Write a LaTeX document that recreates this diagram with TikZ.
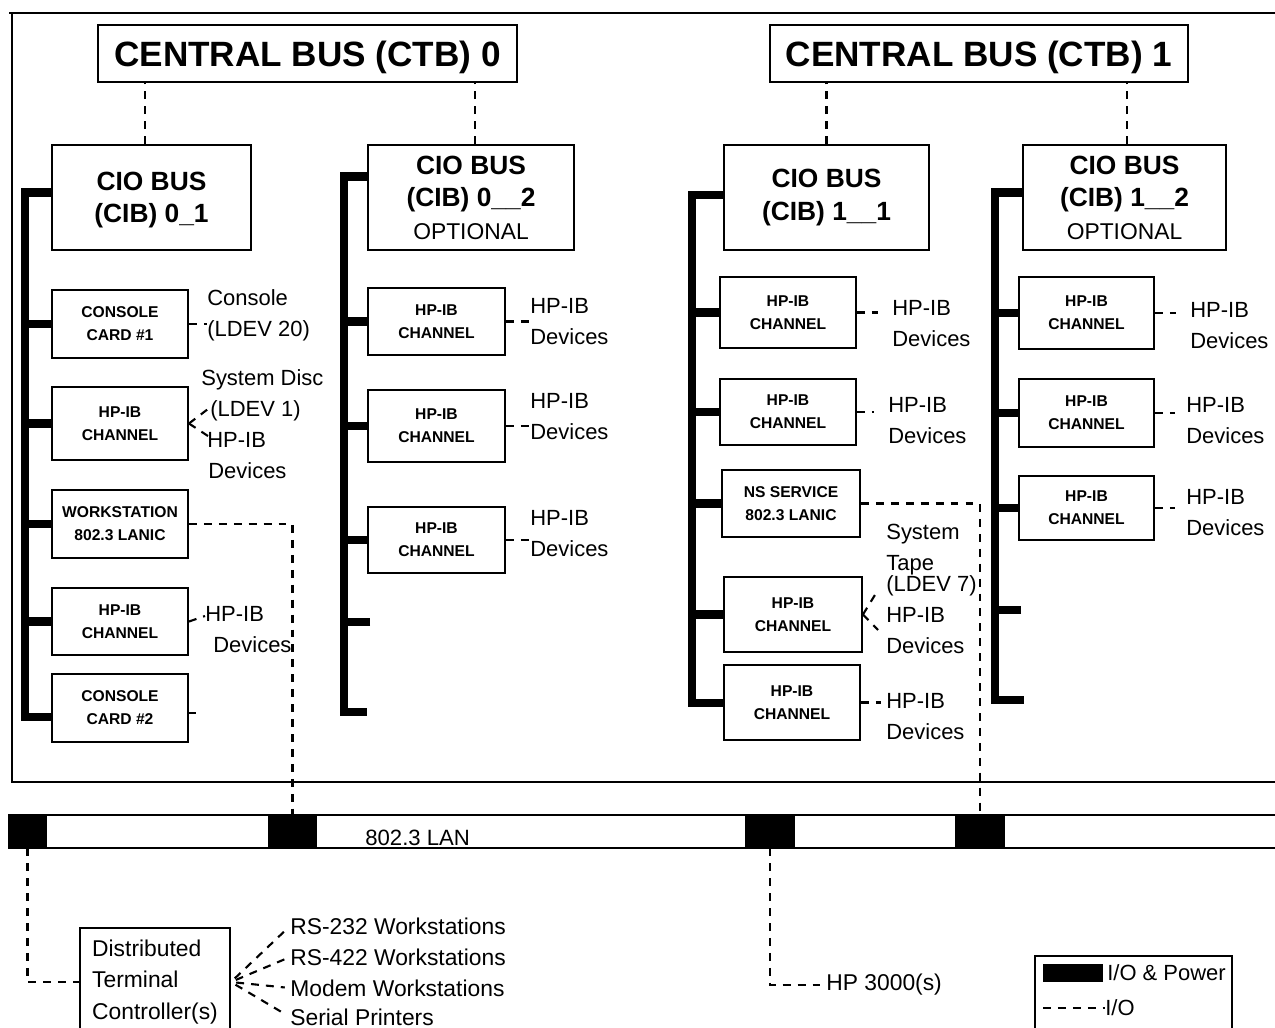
\documentclass[tikz,border=0pt]{standalone}
\usepackage{fontspec}
\setmainfont{Liberation Sans}
\begin{document}
\begin{tikzpicture}[x=0.02cm,y=-0.02cm,
  box/.style={draw, line width=1.1pt, inner sep=0pt, align=center},
  ttl/.style={box, font=\bfseries\fontsize{20}{24}\selectfont, minimum height=1.14cm, text depth=0pt},
  cib/.style={box, font=\bfseries\fontsize{15}{18.5}\selectfont, minimum height=2.1cm},
  card/.style={box, font=\bfseries\fontsize{8.9}{13}\selectfont},
  lbl/.style={inner sep=0pt, align=left, anchor=west, font=\fontsize{12.5}{17.6}\selectfont},
  lblb/.style={inner sep=0pt, align=left, anchor=west, font=\fontsize{13}{18}\selectfont},
  io/.style={line width=1.2pt, dash pattern=on 4.5pt off 4pt},
  bus/.style={line width=5pt, line join=miter},
  frame/.style={line width=1.1pt},
  lanblk/.style={fill=black, draw=none, inner sep=0pt, minimum height=0.66cm}]
\useasboundingbox (0,0) rectangle (1275,1028);

% frame
\draw[frame] (9,13) -- (1280,13);
\draw[frame] (12,13) -- (12,782) -- (1280,782);

% central buses
\node[ttl, minimum width=8.38cm] (ctb0) at (307.5,53.5) {CENTRAL BUS (CTB) 0};
\node[ttl, minimum width=8.36cm] (ctb1) at (979,53.5) {CENTRAL BUS (CTB) 1};

% CIO buses
\node[cib, minimum width=3.98cm, text depth=0pt] (cib01) at (151.5,197.5) {CIO BUS\\(CIB) 0\_1};
\node[cib, minimum width=4.12cm] (cib02) at (471,197.5) {CIO BUS\\(CIB) 0\_\_2\\{\mdseries\fontsize{13}{16}\selectfont OPTIONAL}};
\node[cib, minimum width=4.10cm] (cib11) at (826.5,197.5) {CIO BUS\\(CIB) 1\_\_1};
\node[cib, minimum width=4.06cm] (cib12) at (1124.5,197.5) {CIO BUS\\(CIB) 1\_\_2\\{\mdseries\fontsize{13}{16}\selectfont OPTIONAL}};

\draw[io] ([xshift=-0.13cm]cib01.north) -- ([xshift=-0.13cm]cib01.north |- ctb0.south);
\draw[io] ([xshift=0.08cm]cib02.north) -- ([xshift=0.08cm]cib02.north |- ctb0.south);
\draw[io] (cib11.north) -- (cib11.north |- ctb1.south);
\draw[io] ([xshift=0.05cm]cib12.north) -- ([xshift=0.05cm]cib12.north |- ctb1.south);

% column 0_1
\node[card, minimum width=2.72cm, minimum height=1.36cm] (con1) at (120,324) {CONSOLE\\CARD \#1};
\node[card, minimum width=2.72cm, minimum height=1.46cm] (hp01a) at (120,423.5) {HP-IB\\CHANNEL};
\node[card, minimum width=2.72cm, minimum height=1.36cm] (ws) at (120,524) {WORKSTATION\\802.3 LANIC};
\node[card, minimum width=2.72cm, minimum height=1.34cm] (hp01b) at (120,621.5) {HP-IB\\CHANNEL};
\node[card, minimum width=2.72cm, minimum height=1.36cm] (con2) at (120,708) {CONSOLE\\CARD \#2};

\coordinate (b01) at (25,717);
\draw[bus] ([yshift=0.1cm]cib01.west) -| (b01) -- (con2.west |- b01);
\foreach \n in {con1,hp01a,ws,hp01b} \draw[bus] (\n.west) -- (\n.west -| b01);

\node[lbl] (l01a) at (207,315) {Console\\(LDEV 20)};
\draw[io] (con1.east) -- (con1.east -| l01a.west);
\node[lbl] (l01b) at (201,424.5) {System Disc\\\hspace*{0.18cm}(LDEV 1)\\\hspace*{0.12cm}HP-IB\\\hspace*{0.14cm}Devices};
\coordinate (f1) at (208,409);
\coordinate (f2) at (208,436);
\draw[io] (hp01a.east) -- (f1);
\draw[io] (hp01a.east) -- (f2);
\node[lbl] (l01c) at (205,629.5) {HP-IB\\\hspace*{0.16cm}Devices};
\coordinate (c01c) at (205,616);
\draw[io] (hp01b.east) -- (c01c);
\coordinate (c2s) at (196,713);
\draw[frame] (con2.east |- c2s) -- (c2s);

% column 0_2
\node[card, minimum width=2.74cm, minimum height=1.34cm] (hp02a) at (436.5,321.5) {HP-IB\\CHANNEL};
\node[card, minimum width=2.74cm, minimum height=1.44cm] (hp02b) at (436.5,426) {HP-IB\\CHANNEL};
\node[card, minimum width=2.74cm, minimum height=1.32cm] (hp02c) at (436.5,540) {HP-IB\\CHANNEL};
\coordinate (b02) at (344,712);
\coordinate (s02) at (370,622);
\draw[bus] ([yshift=0.42cm]cib02.west) -| (b02) -- (b02 -| hp02a.west);
\foreach \n in {hp02a,hp02b,hp02c} \draw[bus] (\n.west) -- (\n.west -| b02);
\draw[bus] (s02) -- (s02 -| b02);
\node[lbl] (l02a) at (530,321.5) {HP-IB\\Devices};
\node[lbl] (l02b) at (530,417) {HP-IB\\Devices};
\node[lbl] (l02c) at (530,533.5) {HP-IB\\Devices};
\draw[io] (hp02a.east) -- (hp02a.east -| l02a.west);
\draw[io] (hp02b.east) -- (hp02b.east -| l02b.west);
\draw[io] (hp02c.east) -- (hp02c.east -| l02c.west);

% column 1_1
\node[card, minimum width=2.72cm, minimum height=1.42cm] (hp11a) at (788,312.5) {HP-IB\\CHANNEL};
\node[card, minimum width=2.72cm, minimum height=1.32cm] (hp11b) at (788,412) {HP-IB\\CHANNEL};
\node[card, minimum width=2.76cm, minimum height=1.34cm] (ns) at (791,503.5) {NS SERVICE\\802.3 LANIC};
\node[card, minimum width=2.76cm, minimum height=1.5cm] (hp11c) at (793,614.5) {HP-IB\\CHANNEL};
\node[card, minimum width=2.72cm, minimum height=1.5cm] (hp11d) at (792,702.5) {HP-IB\\CHANNEL};
\coordinate (b11) at (692,703);
\draw[bus] ([yshift=0.05cm]cib11.west) -| (b11) -- (hp11d.west |- b11);
\foreach \n in {hp11a,hp11b,ns,hp11c} \draw[bus] (\n.west) -- (\n.west -| b11);
\node[lbl] (l11a) at (892,323.5) {HP-IB\\Devices};
\node[lbl] (l11b) at (888,420.5) {HP-IB\\Devices};
\node[lbl] (l11c) at (886,589) {System\\Tape\\[-5.7pt](LDEV 7)\\HP-IB\\Devices};
\node[lbl] (l11d) at (886,716.5) {HP-IB\\Devices};
\draw[io, shorten >=8pt] (hp11a.east) -- (hp11a.east -| l11a.west);
\draw[io, shorten >=8pt] (hp11b.east) -- (hp11b.east -| l11b.west);
\coordinate (f3) at (878,590);
\coordinate (f4) at (878,630);
\draw[io] (hp11c.east) -- (f3);
\draw[io] (hp11c.east) -- (f4);
\draw[io, shorten >=3pt] (hp11d.east) -- (hp11d.east -| l11d.west);

% column 1_2
\node[card, minimum width=2.7cm, minimum height=1.44cm] (hp12a) at (1086.5,313) {HP-IB\\CHANNEL};
\node[card, minimum width=2.7cm, minimum height=1.36cm] (hp12b) at (1086.5,413) {HP-IB\\CHANNEL};
\node[card, minimum width=2.7cm, minimum height=1.28cm] (hp12c) at (1086.5,508) {HP-IB\\CHANNEL};
\coordinate (b12) at (995,700);
\coordinate (b12e) at (1024,700);
\coordinate (s12) at (1021,610);
\draw[bus] ([yshift=0.1cm]cib12.west) -| (b12) -- (b12e);
\foreach \n in {hp12a,hp12b,hp12c} \draw[bus] (\n.west) -- (\n.west -| b12);
\draw[bus] (s12) -- (s12 -| b12);
\node[lbl] (l12a) at (1190,326) {HP-IB\\Devices};
\node[lbl] (l12b) at (1186,420.5) {HP-IB\\Devices};
\node[lbl] (l12c) at (1186,512.5) {HP-IB\\Devices};
\draw[io, shorten >=8pt] (hp12a.east) -- (hp12a.east -| l12a.west);
\draw[io, shorten >=6pt] (hp12b.east) -- (hp12b.east -| l12b.west);
\draw[io, shorten >=6pt] (hp12c.east) -- (hp12c.east -| l12c.west);

% LAN
\draw[frame] (8,815) -- (1280,815);
\draw[frame] (8,848) -- (1280,848);
\node[lanblk, minimum width=0.78cm] (lanA) at (27.5,831.5) {};
\node[lanblk, minimum width=0.98cm] (lanB) at (292.5,831.5) {};
\node[lanblk, minimum width=1cm] (lanC) at (770,831.5) {};
\node[lanblk, minimum width=1cm] (lanD) at (980,831.5) {};
\node[anchor=base west, inner sep=0pt, font=\fontsize{12.6}{15}\selectfont] (lanlbl) at (365,845) {802.3 LAN};
\draw[io] (ws.east) -| (lanB.north);
\draw[io] (ns.east) -| (lanD.north);

% terminal controller
\node[box, font=\fontsize{13}{18}\selectfont, align=left, minimum width=3cm, minimum height=2.16cm] (dtc) at (155,982) {Distributed\\Terminal\\Controller(s)};
\draw[io] (lanA.south) |- (dtc.west);
\node[lblb] (rs232) at (290,926) {RS-232 Workstations};
\node[lblb] (rs422) at (290,957) {RS-422 Workstations};
\node[lblb] (modem) at (290,988) {Modem Workstations};
\node[lblb] (serial) at (290,1017) {Serial Printers};
\foreach \t in {rs232,rs422,modem,serial}
  \draw[io, shorten <=3pt, shorten >=3pt] (dtc.east) -- (\t.west);

% HP 3000
\node[lblb] (hp3000) at (826,985) {HP 3000(s)};
\draw[io] (lanC.south) |- (hp3000.west);

% legend
\node[box, minimum width=3.94cm, minimum height=1.58cm] (legend) at (1133.5,995.5) {};
\node[fill=black, inner sep=0pt, minimum width=1.2cm, minimum height=0.36cm] (legblk) at (1073,973) {};
\node[lbl] (legA) at (1107,973) {I/O \& Power};
\coordinate (legd) at (1043,1008);
\node[lbl] (legB) at (1105,1008) {I/O};
\draw[io] (legd) -- (legB.west);
\end{tikzpicture}
\end{document}
